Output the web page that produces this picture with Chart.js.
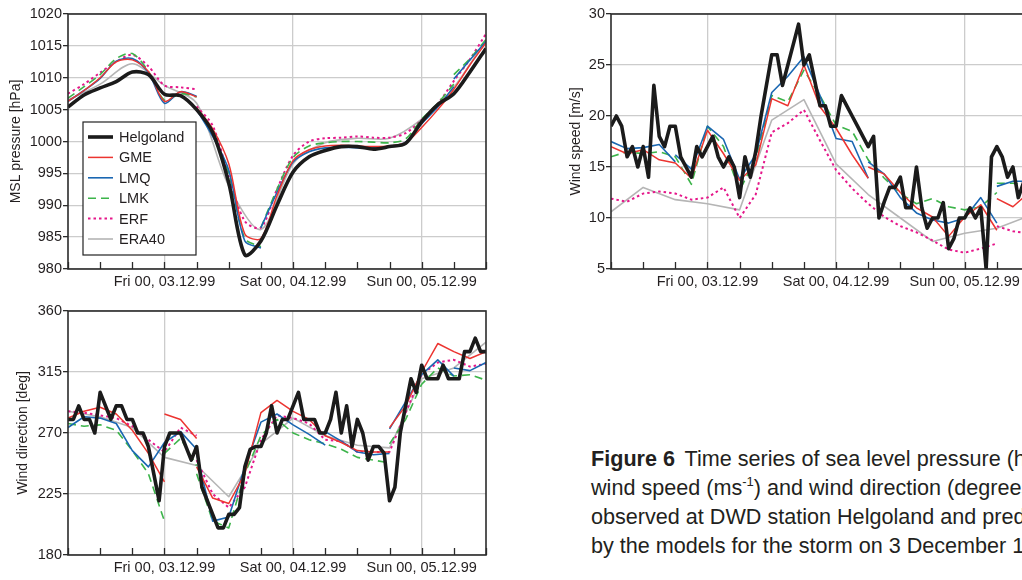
<!DOCTYPE html>
<html lang="en">

<head>
    <meta charset="UTF-8">
    <title>Helgoland storm, 3 December 1999</title>
    <script src="https://cdn.jsdelivr.net/npm/chart.js"></script>
    <style>
        html,
        body {
            margin: 0;
            padding: 0;
            width: 1022px;
            height: 580px;
            overflow: hidden;
            background: #fff;
            position: relative;
        }

        canvas {
            position: absolute;
        }

        #presChart { left: 0; top: 0; }
        #dirChart { left: 0; top: 297px; }
        #speedChart { left: 540px; top: 0; }

        .caption {
            position: absolute;
            left: 591px;
            top: 444px;
            font-family: 'Liberation Sans', Arial, sans-serif;
            font-size: 21.6px;
            line-height: 29px;
            color: #231f20;
            white-space: nowrap;
        }

        .caption b { margin-right: 4px; }

        .caption sup {
            font-size: 13px;
            line-height: 0;
            vertical-align: 9px;
        }
    </style>
</head>

<body>
    <canvas id="presChart" width="500" height="295"></canvas>
    <canvas id="dirChart" width="500" height="283"></canvas>
    <canvas id="speedChart" width="500" height="295"></canvas>

    <div class="caption"><b>Figure 6</b> Time series of sea level pressure (hPa),<br>wind speed (ms<sup>-1</sup>) and wind direction (degrees)<br>observed at DWD station Helgoland and predicted<br>by the models for the storm on 3 December 1999.</div>

    <script>
        // hours counted from Thu 02.12.99 00 UTC; axis runs 6 .. 84
        const dayHours = [24, 48, 72];
        const dayLabels = ['Fri 00, 03.12.99', 'Sat 00, 04.12.99', 'Sun 00, 05.12.99'];

        // MSL pressure [hPa]: Helgoland and models every 3 h, ERA40 every 6 h
        // a pair [a, b] marks a new forecast run starting at that hour
        const helgoPres = [1005.4, 1007.3, 1008.4, 1009.4, 1010.9, 1010.5, 1007.4, 1007.2, 1005.0, 1001.4, 993.5, 982.2, 984.4,
            990.0, 995.2, 997.6, 998.6, 999.2, 999.2, 998.8, 999.2, 999.7, 1003.1, 1005.8, 1007.5, 1010.9, 1014.6];
        const gmePres = [1006.3, 1008.0, 1010.0, 1012.5, 1012.8, 1011.0, 1006.3, 1007.8, [1007.0, 1005.3], 1002.0, 996.5, 985.5, 984.8,
            991.5, 997.0, 998.7, 999.3, 999.4, 999.3, 999.2, 999.3, 999.8, 1002.2, 1005.0, 1008.2, 1012.0, 1015.5];
        const lmqPres = [1006.3, 1008.0, 1009.9, 1012.6, 1013.0, 1010.8, 1006.0, 1007.8, [1007.1, 1005.0], 1000.8, 995.5, 984.4, [983.3, 986.5],
            992.0, 996.8, 998.4, 999.0, 999.1, 999.0, 999.0, 999.2, 999.9, 1002.8, 1005.4, [1008.6, 1009.8], 1012.8, 1015.7];
        const lmkPres = [1006.8, 1008.6, 1010.5, 1013.0, 1013.8, 1011.0, 1006.5, 1007.5, [1007.0, 1005.2], 1001.0, 995.0, 984.8, [983.5, 986.5],
            992.5, 997.5, 999.3, 999.8, 1000.0, 1000.0, 999.9, 999.8, 1000.4, 1003.5, 1006.0, [1009.0, 1010.5], 1013.0, 1016.0];
        const erfPres = [1007.5, 1009.0, 1010.8, 1012.5, 1013.6, 1011.8, 1008.8, 1008.5, [1008.2, 1005.5], 1002.5, 994.5, 987.5, 986.5,
            992.5, 997.8, 1000.0, 1000.5, 1000.6, 1000.8, 1000.6, 1000.6, 1001.3, 1003.4, 1005.9, 1009.5, 1012.9, 1016.9];
        const era40Pres = [1006.5, 1009.0, 1012.2, 1008.8, 1006.0, 993.0, 986.2, 996.5, 999.8, 1000.5, 1000.5, 1003.5, 1008.5, 1016.0];

        // wind speed [m/s]: Helgoland hourly, models every 3 h, ERA40 every 6 h
        const helgoSpeed = [19, 20, 19, 16, 17, 15, 17, 14, 23, 18,
            17, 19, 19, 16, 15, 14, 17, 16, 17, 18,
            16, 15, 16, 15, 12, 16, 14, 16.5, 20, 23,
            26, 26, 23, 25, 27, 29, 25, 26, 23.5, 21,
            21, 19, 19, 22, 21, 20, 19, 18, 17, 18,
            10, 11.6, 13, 13, 14, 11, 11, 15, 11, 9,
            10, 10, 11.5, 7, 8, 10, 10, 11, 10, 11,
            5, 16, 17, 16, 14, 15, 12, 13.5, 14];
        const gmeSpeed = [17, 16.3, 16.7, 15.7, 15.4, 13.9, 18.6, 16.3, 13.7, 15.2, 21.7, 21.0, 25.0, 20.9, 18.8, 16.2,
            [13.9, 15.0], 14.3, 12.5, 11.0, 10.1, 8.2, 10.1, 11.3, [8.8, 11.9], 11.1, 12.5];
        const lmqSpeed = [17.5, 16.8, 16.9, 17.2, [15.5, 16.2], 14.8, 19.0, 17.7, 13.8, 16.2, 22.3, 23.9, 25.8, 22.0, 17.8, 17.5,
            [13.9, 15.5], 14.3, 12.0, 10.5, 9.8, 9.5, 10.0, 12.0, [9.5, 13.1], 13.6, 13.6];
        const lmkSpeed = [16, 16.5, 16.3, 16.5, 16, 13.3, 19, 17, 12.7, 15.8, 22, 21.4, 24.5, 22, 19.1, 18.5,
            15.7, 13.9, 12.4, 11.4, 11.9, 11.1, 10.8, 11.1, [12.5, 13.4], 13.4, 13.2];
        const erfSpeed = [11.9, 11.6, 12.4, 12.6, 12.4, 11.8, 12.0, 13.0, 10.0, 12.3, 18.4, 19.3, 20.6, 17.6, 14.7, 12.9,
            11.4, 10.1, 9.2, 8.6, 7.8, 6.9, 6.6, 7.0, [7.5, 9.2], 8.7, 8.5];
        const era40Speed = [10.6, 13.0, 11.8, 11.4, 10.8, 19.6, 21.6, 15.3, 12.3, 10.0, 7.7, 8.5, 9.0, 10.2];

        // wind direction [deg]
        const helgoDir = [280, 280, 290, 280, 280, 270, 300, 290, 280, 290,
            290, 280, 280, 270, 270, 260, 240, 220, 260, 270,
            270, 270, 260, 250, 260, 230, 220, 210, 200, 200,
            210, 210, 215, 245, 258, 260, 260, 270, 290, 270,
            280, 280, 290, 300, 280, 280, 280, 270, 270, 280,
            300, 270, 290, 260, 280, 270, 250, 260, 260, 255,
            220, 230, 270, 290, 310, 300, 320, 310, 310, 310,
            320, 310, 310, 310, 330, 330, 340, 330, 330];
        const gmeDir = [281, 286, 289, 284, 272, 255, [234, 284], 280, [266, 245], 222, 218, 240, 285, 294, 286, 280,
            268, 263, 257, 256, [256, 274], 290, 315, 336, 330, 325, 330];
        const lmqDir = [274, 282, 281, 277, 257, 245, 263, 271, [258, 255], 205, 208, 245, 278, 284, 276, 269,
            [261, 271], 264, 256, 254, [255, 273], 293, 313, 324, [312, 318], 316, 322];
        const lmkDir = [277, 275, 276, 272, 257, 240, [205, 255], 266, [246, 240], 205, 200, 240, 268, 280, 270, 265,
            262, 258, 252, 250, [248, 262], 280, 306, 318, 312, 313, 309];
        const erfDir = [286, 285, 283, 281, 275, 265, 256, 274, [268, 250], 225, 215, 230, 265, 283, 281, 277,
            265, 264, 256, 256, 256, 285, 313, 322, 324, 319, 321];
        const era40Dir = [286, 282, 274, 252, 246, 223, 262, 281, 268, 261, 259, 310, 318, 337];

        const lineStyle = {
            Helgoland: { color: '#1b1b1b', width: 3.6, dash: [] },
            GME: { color: '#ec3430', width: 1.5, dash: [] },
            LMQ: { color: '#1a67b2', width: 1.6, dash: [] },
            LMK: { color: '#3cb44a', width: 1.6, dash: [8, 5] },
            ERF: { color: '#e5178a', width: 2, dash: [2.5, 3] },
            ERA40: { color: '#b5b5b5', width: 1.6, dash: [] }
        };

        const textColor = '#231f20';
        const gridGrey = '#cccccc';
        const tickFont = { family: "'Liberation Sans', Arial, sans-serif", size: 14.5 };

        function series(vals, start, step) {
            const pts = [];
            vals.forEach((v, i) => {
                const x = start + i * step;
                if (Array.isArray(v)) {
                    pts.push({ x, y: v[0] }, { x, y: null }, { x, y: v[1] });
                } else {
                    pts.push({ x, y: v });
                }
            });
            return pts;
        }

        function buildSets(obs, obsStep, models, era, tension) {
            const list = [['Helgoland', series(obs, 6, obsStep)]];
            ['GME', 'LMQ', 'LMK', 'ERF'].forEach((name, i) => list.push([name, series(models[i], 6, 3)]));
            list.push(['ERA40', series(era, 6, 6)]);
            return list.map(([label, data]) => ({
                label,
                data,
                borderColor: lineStyle[label].color,
                borderWidth: lineStyle[label].width,
                borderDash: lineStyle[label].dash,
                borderJoinStyle: 'round',
                pointRadius: 0,
                tension,
                spanGaps: false,
                fill: false
            }));
        }

        // frame round the plot plus inward tick marks on the time axis
        const framePlugin = {
            id: 'frame',
            afterDraw(chart) {
                const { ctx, chartArea: a, scales: { x } } = chart;
                ctx.save();
                ctx.strokeStyle = '#2b2b2b';
                ctx.lineWidth = 1.3;
                x.ticks.forEach(t => {
                    const px = Math.round(x.getPixelForValue(t.value)) + 0.5;
                    ctx.beginPath();
                    ctx.moveTo(px, a.bottom);
                    ctx.lineTo(px, a.bottom - 7);
                    ctx.stroke();
                });
                ctx.lineWidth = 1.6;
                ctx.strokeRect(a.left, a.top, a.right - a.left, a.bottom - a.top);
                ctx.restore();
            }
        };

        const legendBox = {
            id: 'legendBox',
            afterDraw(chart) {
                const { ctx, chartArea: a } = chart;
                const sets = chart.data.datasets;
                const x0 = a.left + 15, y0 = a.top + 108, w = 113, rowH = 20.4;
                const h = sets.length * rowH + 10.6;
                ctx.save();
                ctx.fillStyle = '#fff';
                ctx.fillRect(x0, y0, w, h);
                ctx.strokeStyle = '#222';
                ctx.lineWidth = 1.2;
                ctx.strokeRect(x0, y0, w, h);
                ctx.font = "14.5px 'Liberation Sans', Arial, sans-serif";
                ctx.textBaseline = 'middle';
                sets.forEach((d, i) => {
                    const y = y0 + 15 + i * rowH;
                    ctx.strokeStyle = d.borderColor;
                    ctx.lineWidth = d.borderWidth;
                    ctx.setLineDash(d.borderDash);
                    ctx.beginPath();
                    ctx.moveTo(x0 + 5, y);
                    ctx.lineTo(x0 + 30, y);
                    ctx.stroke();
                    ctx.setLineDash([]);
                    ctx.fillStyle = textColor;
                    ctx.fillText(d.label, x0 + 36, y + 1);
                });
                ctx.restore();
            }
        };

        function makeChart(id, datasets, y, box, extraPlugins) {
            return new Chart(document.getElementById(id), {
                type: 'line',
                data: { datasets },
                options: {
                    responsive: false,
                    animation: false,
                    layout: { padding: { top: 14, right: box.right, left: 0, bottom: 0 } },
                    plugins: { legend: { display: false }, tooltip: { enabled: false } },
                    scales: {
                        x: {
                            type: 'linear',
                            min: 6,
                            max: 84,
                            afterFit: s => { s.height = box.xh; },
                            border: { display: false },
                            grid: {
                                drawTicks: false,
                                lineWidth: 1.3,
                                color: c => dayHours.includes(c.tick.value) ? gridGrey : 'rgba(0,0,0,0)'
                            },
                            ticks: {
                                stepSize: 6,
                                autoSkip: false,
                                maxRotation: 0,
                                padding: 4,
                                color: textColor,
                                font: tickFont,
                                callback: v => dayLabels[dayHours.indexOf(v)] || ''
                            }
                        },
                        y: {
                            min: y.min,
                            max: y.max,
                            afterFit: s => { s.width = box.yw; },
                            border: { display: false },
                            grid: { color: gridGrey, lineWidth: 1.3, tickLength: 5, tickColor: '#2b2b2b' },
                            ticks: { stepSize: y.step, padding: 1, color: textColor, font: tickFont, callback: v => String(v) },
                            title: {
                                display: true,
                                text: y.title,
                                color: textColor,
                                font: { family: tickFont.family, size: 14 },
                                padding: { top: box.titlePad, bottom: 0 }
                            }
                        }
                    }
                },
                plugins: [framePlugin].concat(extraPlugins || [])
            });
        }

        makeChart('presChart',
            buildSets(helgoPres, 3, [gmePres, lmqPres, lmkPres, erfPres], era40Pres, 0.3),
            { min: 980, max: 1020, step: 5, title: 'MSL pressure [hPa]' },
            { right: 14, xh: 26, yw: 68, titlePad: 8 },
            [legendBox]);

        makeChart('dirChart',
            buildSets(helgoDir, 1, [gmeDir, lmqDir, lmkDir, erfDir], era40Dir, 0),
            { min: 180, max: 360, step: 45, title: 'Wind direction [deg]' },
            { right: 14, xh: 25, yw: 68, titlePad: 15 });

        makeChart('speedChart',
            buildSets(helgoSpeed, 1, [gmeSpeed, lmqSpeed, lmkSpeed, erfSpeed], era40Speed, 0),
            { min: 5, max: 30, step: 5, title: 'Wind speed [m/s]' },
            { right: 11, xh: 26, yw: 71, titlePad: 28 });
    </script>
</body>

</html>
